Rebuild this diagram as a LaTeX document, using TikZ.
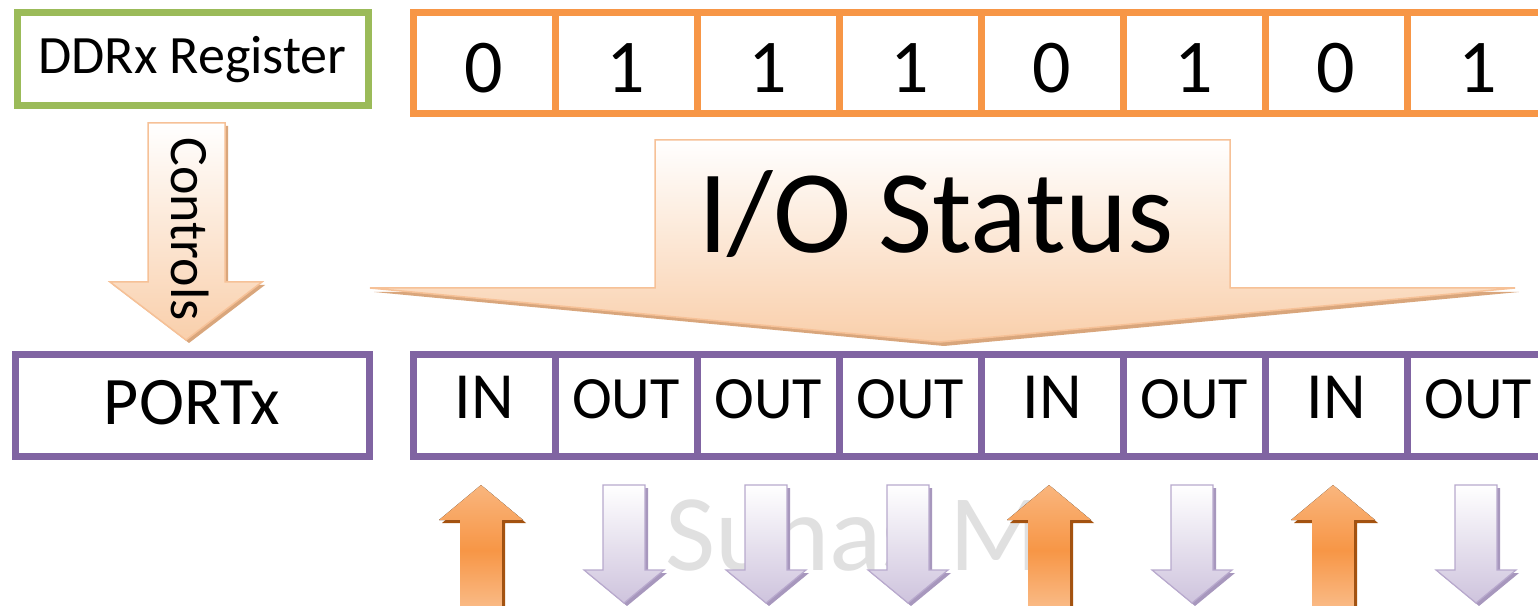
\documentclass[tikz,border=0pt]{standalone}
\usepackage{fontspec}
\setmainfont{Carlito}
\usetikzlibrary{positioning}
\usetikzlibrary{shadings}
\definecolor{ddrgreen}{HTML}{9BBB59}
\definecolor{bitorange}{HTML}{F79646}
\definecolor{portpurple}{HTML}{8064A2}
\definecolor{peach}{HTML}{F9CFAB}
\definecolor{peachline}{HTML}{F6C197}
\definecolor{peachshadow}{HTML}{D9A67C}
\definecolor{upshadow}{HTML}{A5520E}
\definecolor{lilac}{HTML}{CEC3DD}
\definecolor{lilacline}{HTML}{B8A9CD}
\definecolor{lilacshadow}{HTML}{A797BD}
\tikzset{ddrbox/.style = {draw = ddrgreen, line width = 7, minimum width = 351,
                          minimum height = 93, font = \fontsize{54}{60}\selectfont}}
\tikzset{portbox/.style = {draw = portpurple, line width = 7, minimum width = 354,
                           minimum height = 102, text depth = 8,
                           font = \fontsize{68}{70}\selectfont}}
\tikzset{bitcell/.style = {draw = bitorange, line width = 7, outer sep = 0,
                           minimum width = 142, minimum height = 101,
                           text height = 58, text depth = 0,
                           font = \fontsize{76}{80}\selectfont}}
\tikzset{portcell/.style = {draw = portpurple, line width = 7, outer sep = 0,
                            minimum width = 142, minimum height = 102,
                            text height = 40, text depth = 15}}
\tikzset{blockarrow/.style = {draw = peachline, line width = 1.5,
                              top color = white, bottom color = peach}}
\tikzset{inarrow/.style = {top color = bitorange!70, bottom color = bitorange!60,
                           middle color = bitorange}}
\tikzset{outarrow/.style = {draw = lilacline, line width = 1.2,
                            top color = white, bottom color = lilac}}

\begin{document}
\begin{tikzpicture}[x = 1pt, y = 1pt]
  \fill [white] (0, 0) rectangle (1538, 605);
  \useasboundingbox (0, 0) rectangle (1538, 605);

  \node [anchor = base west, inner sep = 0, text = black!12,
         font = \fontsize{109}{110}\selectfont] (mark) at (665, 35) {Suhas M};

  % register, port and their cells
  \node [ddrbox] (ddr) at (192.5, 545.5) {DDRx Register};
  \node [portbox] (port) at (192, 199) {PORTx};
  \foreach \b [count = \i from 0] in {0, 1, 1, 1, 0, 1, 0, 1}
    \node [bitcell] (bit\i) at ({484 + 142*\i}, 541.5) {\b};
  \foreach \d/\s [count = \i from 0] in {IN/66, OUT/60, OUT/60, OUT/60,
                                        IN/66, OUT/60, IN/66, OUT/60}
    \node [portcell, font = \fontsize{\s}{\s}\selectfont] (port\i)
      at ({484 + 142*\i}, 199) {\d};

  % controls arrow
  \fill [peachshadow] (151, 479) -- (228, 479) -- (228, 320) -- (265, 320)
    -- (189, 262) -- (113, 320) -- (151, 320) -- cycle;
  \draw [blockarrow] (148, 482) -- (225, 482) -- (225, 323) -- (262, 323)
    -- (186, 265) -- (110, 323) -- (148, 323) -- cycle;
  \node [rotate = -90, font = \fontsize{54}{60}\selectfont] (ctrl)
    at (190, 376) {Controls};

  % I/O status callout
  \fill [peachshadow] (374, 313) -- (659, 313) -- (1234, 313) -- (1519, 313)
    -- (944, 259) -- cycle;
  \draw [blockarrow] (370, 317) -- (655, 317) -- (655, 465) -- (1230, 465)
    -- (1230, 317) -- (1515, 317) -- (940, 263) -- cycle;
  \node [anchor = base, inner sep = 0, font = \fontsize{118}{120}\selectfont]
    (status) at (936, 352) {I/O Status};

  % data direction arrows
  \foreach \i in {0, 4, 6} {
    \begin{scope}[shift = {(port\i.center)}]
      \fill [upshadow] (-21, -210) -- (-21, -117) -- (-42, -117) -- (0, -82)
        -- (42, -117) -- (21, -117) -- (21, -210) -- cycle;
      \fill [inarrow] (-24, -210) -- (-24, -114) -- (-45, -114) -- (-3, -79)
        -- (39, -114) -- (18, -114) -- (18, -210) -- cycle;
    \end{scope}
  }
  \foreach \i in {1, 2, 3, 5, 7} {
    \begin{scope}[shift = {(port\i.center)}]
      \fill [lilacshadow] (-20, -82) -- (22, -82) -- (22, -167) -- (41, -167)
        -- (1, -200) -- (-39, -167) -- (-20, -167) -- cycle;
      \draw [outarrow] (-23, -79) -- (19, -79) -- (19, -164) -- (38, -164)
        -- (-2, -197) -- (-42, -164) -- (-23, -164) -- cycle;
    \end{scope}
  }
\end{tikzpicture}
\end{document}
